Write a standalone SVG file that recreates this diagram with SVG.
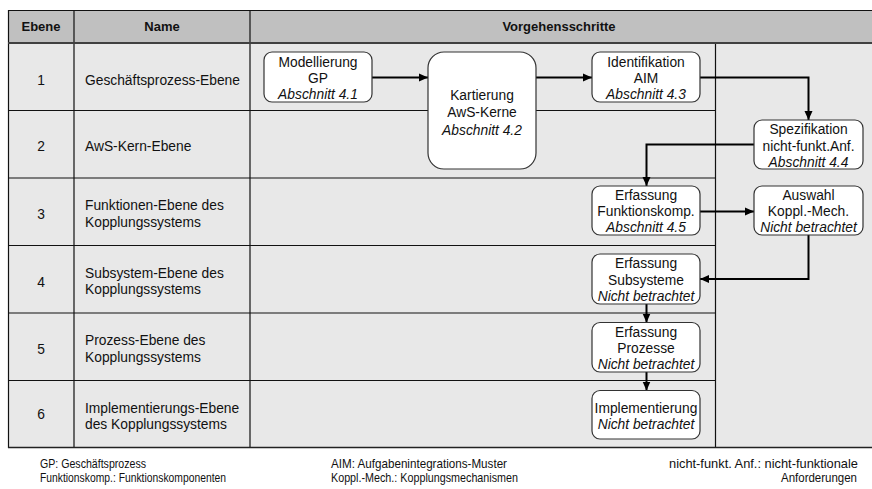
<svg xmlns="http://www.w3.org/2000/svg" width="872" height="489" viewBox="0 0 872 489">
<style>
  text { font-family: "Liberation Sans", Arial, sans-serif; fill: #111; }
  .t { font-size: 13.8px; }
  .c { text-anchor: middle; }
  .i { font-style: italic; }
  .h { font-size: 13px; font-weight: bold; text-anchor: middle; }
  .grid { stroke: #111; stroke-width: 1.2; fill: none; }
  .node { fill: #fff; stroke: #333; stroke-width: 1.2; }
  .conn { fill: none; stroke: #000; stroke-width: 2; }
  .lg { font-size: 13px; }
</style>
<defs>
  <marker id="arr" markerWidth="10" markerHeight="10" refX="9" refY="5" orient="auto" markerUnits="userSpaceOnUse">
    <path d="M0,1 L9,5 L0,9 Z" fill="#000"/>
  </marker>
</defs>
<rect width="872" height="489" fill="#fff"/>
<g id="table">
  <rect x="8" y="10" width="870" height="33" fill="#c0c0c0"/>
  <rect x="8" y="43" width="870" height="405" fill="#e8e8e8"/>
  <path class="grid" d="M8,10.5 H872 M8.5,10 V448 M74,10 V448 M250,10 V448 M715.5,43 V448 M8,110.5 H715.5 M8,178 H715.5 M8,245.5 H715.5 M8,313 H715.5 M8,380.5 H715.5"/>
  <path d="M8,43 H872" stroke="#404040" stroke-width="2.2"/>
  <path d="M8,447.5 H872" stroke="#222" stroke-width="1.6"/>
  <text class="h" x="41" y="31">Ebene</text>
  <text class="h" x="162" y="31">Name</text>
  <text class="h" x="559" y="31">Vorgehensschritte</text>
  <text class="t c" x="41" y="85">1</text>
  <text class="t" x="85" y="85">Geschäftsprozess-Ebene</text>
  <text class="t c" x="41" y="151">2</text>
  <text class="t" x="85" y="151">AwS-Kern-Ebene</text>
  <text class="t c" x="41" y="219">3</text>
  <text class="t" x="85" y="210">Funktionen-Ebene des</text>
  <text class="t" x="85" y="226.5">Kopplungssystems</text>
  <text class="t c" x="41" y="286.5">4</text>
  <text class="t" x="85" y="277.5">Subsystem-Ebene des</text>
  <text class="t" x="85" y="294">Kopplungssystems</text>
  <text class="t c" x="41" y="354">5</text>
  <text class="t" x="85" y="345">Prozess-Ebene des</text>
  <text class="t" x="85" y="361.5">Kopplungssystems</text>
  <text class="t c" x="41" y="419">6</text>
  <text class="t" x="85" y="412.5">Implementierungs-Ebene</text>
  <text class="t" x="85" y="429">des Kopplungssystems</text>
</g>
<g id="connectors">
  <path class="conn" d="M372,77.5 H428" marker-end="url(#arr)"/>
  <path class="conn" d="M536,77.5 H592" marker-end="url(#arr)"/>
  <path class="conn" d="M700,77.5 H808.5 V120" marker-end="url(#arr)"/>
  <path class="conn" d="M754,144.5 H646.5 V186" marker-end="url(#arr)"/>
  <path class="conn" d="M700,211.5 H754" marker-end="url(#arr)"/>
  <path class="conn" d="M808.5,235 V279 H700" marker-end="url(#arr)"/>
  <path class="conn" d="M646.5,304 V322.5" marker-end="url(#arr)"/>
  <path class="conn" d="M646.5,372 V390.5" marker-end="url(#arr)"/>
</g>
<g id="n-modellierung">
  <rect class="node" x="264" y="52" width="108" height="50" rx="8"/>
  <text class="t c" x="318" y="66.5">Modellierung</text>
  <text class="t c" x="318" y="82.5">GP</text>
  <text class="t c i" x="318" y="99">Abschnitt 4.1</text>
</g>
<g id="n-kartierung">
  <rect class="node" x="428" y="52" width="108" height="117" rx="16"/>
  <text class="t c" x="482" y="99.5">Kartierung</text>
  <text class="t c" x="482" y="116.5">AwS-Kerne</text>
  <text class="t c i" x="482" y="134.5">Abschnitt 4.2</text>
</g>
<g id="n-identifikation">
  <rect class="node" x="592" y="52" width="108" height="50" rx="8"/>
  <text class="t c" x="646" y="66.5">Identifikation</text>
  <text class="t c" x="646" y="82.5">AIM</text>
  <text class="t c i" x="646" y="99">Abschnitt 4.3</text>
</g>
<g id="n-spezifikation">
  <rect class="node" x="754" y="120" width="109" height="49" rx="8"/>
  <text class="t c" x="808.5" y="133.5">Spezifikation</text>
  <text class="t c" x="808.5" y="150.5">nicht-funkt.Anf.</text>
  <text class="t c i" x="808.5" y="166.5">Abschnitt 4.4</text>
</g>
<g id="n-funktionskomp">
  <rect class="node" x="592" y="186" width="108" height="49" rx="8"/>
  <text class="t c" x="646" y="199.5">Erfassung</text>
  <text class="t c" x="646" y="216">Funktionskomp.</text>
  <text class="t c i" x="646" y="232">Abschnitt 4.5</text>
</g>
<g id="n-auswahl">
  <rect class="node" x="754" y="186" width="109" height="49" rx="8"/>
  <text class="t c" x="808.5" y="199.5">Auswahl</text>
  <text class="t c" x="808.5" y="216">Koppl.-Mech.</text>
  <text class="t c i" x="808.5" y="232">Nicht betrachtet</text>
</g>
<g id="n-subsysteme">
  <rect class="node" x="592" y="254" width="108" height="50" rx="8"/>
  <text class="t c" x="646" y="268">Erfassung</text>
  <text class="t c" x="646" y="284.5">Subsysteme</text>
  <text class="t c i" x="646" y="301">Nicht betrachtet</text>
</g>
<g id="n-prozesse">
  <rect class="node" x="592" y="322.5" width="108" height="49.5" rx="8"/>
  <text class="t c" x="646" y="336.5">Erfassung</text>
  <text class="t c" x="646" y="353">Prozesse</text>
  <text class="t c i" x="646" y="368.5">Nicht betrachtet</text>
</g>
<g id="n-implementierung">
  <rect class="node" x="592" y="390.5" width="108" height="48.5" rx="8"/>
  <text class="t c" x="646" y="413">Implementierung</text>
  <text class="t c i" x="646" y="428.5">Nicht betrachtet</text>
</g>
<g id="legend">
  <text class="lg" x="40" y="468" textLength="106" lengthAdjust="spacingAndGlyphs">GP: Geschäftsprozess</text>
  <text class="lg" x="40" y="482" textLength="186" lengthAdjust="spacingAndGlyphs">Funktionskomp.: Funktionskomponenten</text>
  <text class="lg" x="331" y="468" textLength="176" lengthAdjust="spacingAndGlyphs">AIM: Aufgabenintegrations-Muster</text>
  <text class="lg" x="331" y="482" textLength="187" lengthAdjust="spacingAndGlyphs">Koppl.-Mech.: Kopplungsmechanismen</text>
  <text class="lg" x="669" y="468" textLength="189" lengthAdjust="spacingAndGlyphs">nicht-funkt. Anf.: nicht-funktionale</text>
  <text class="lg" x="781" y="482" textLength="76" lengthAdjust="spacingAndGlyphs">Anforderungen</text>
</g>
</svg>
